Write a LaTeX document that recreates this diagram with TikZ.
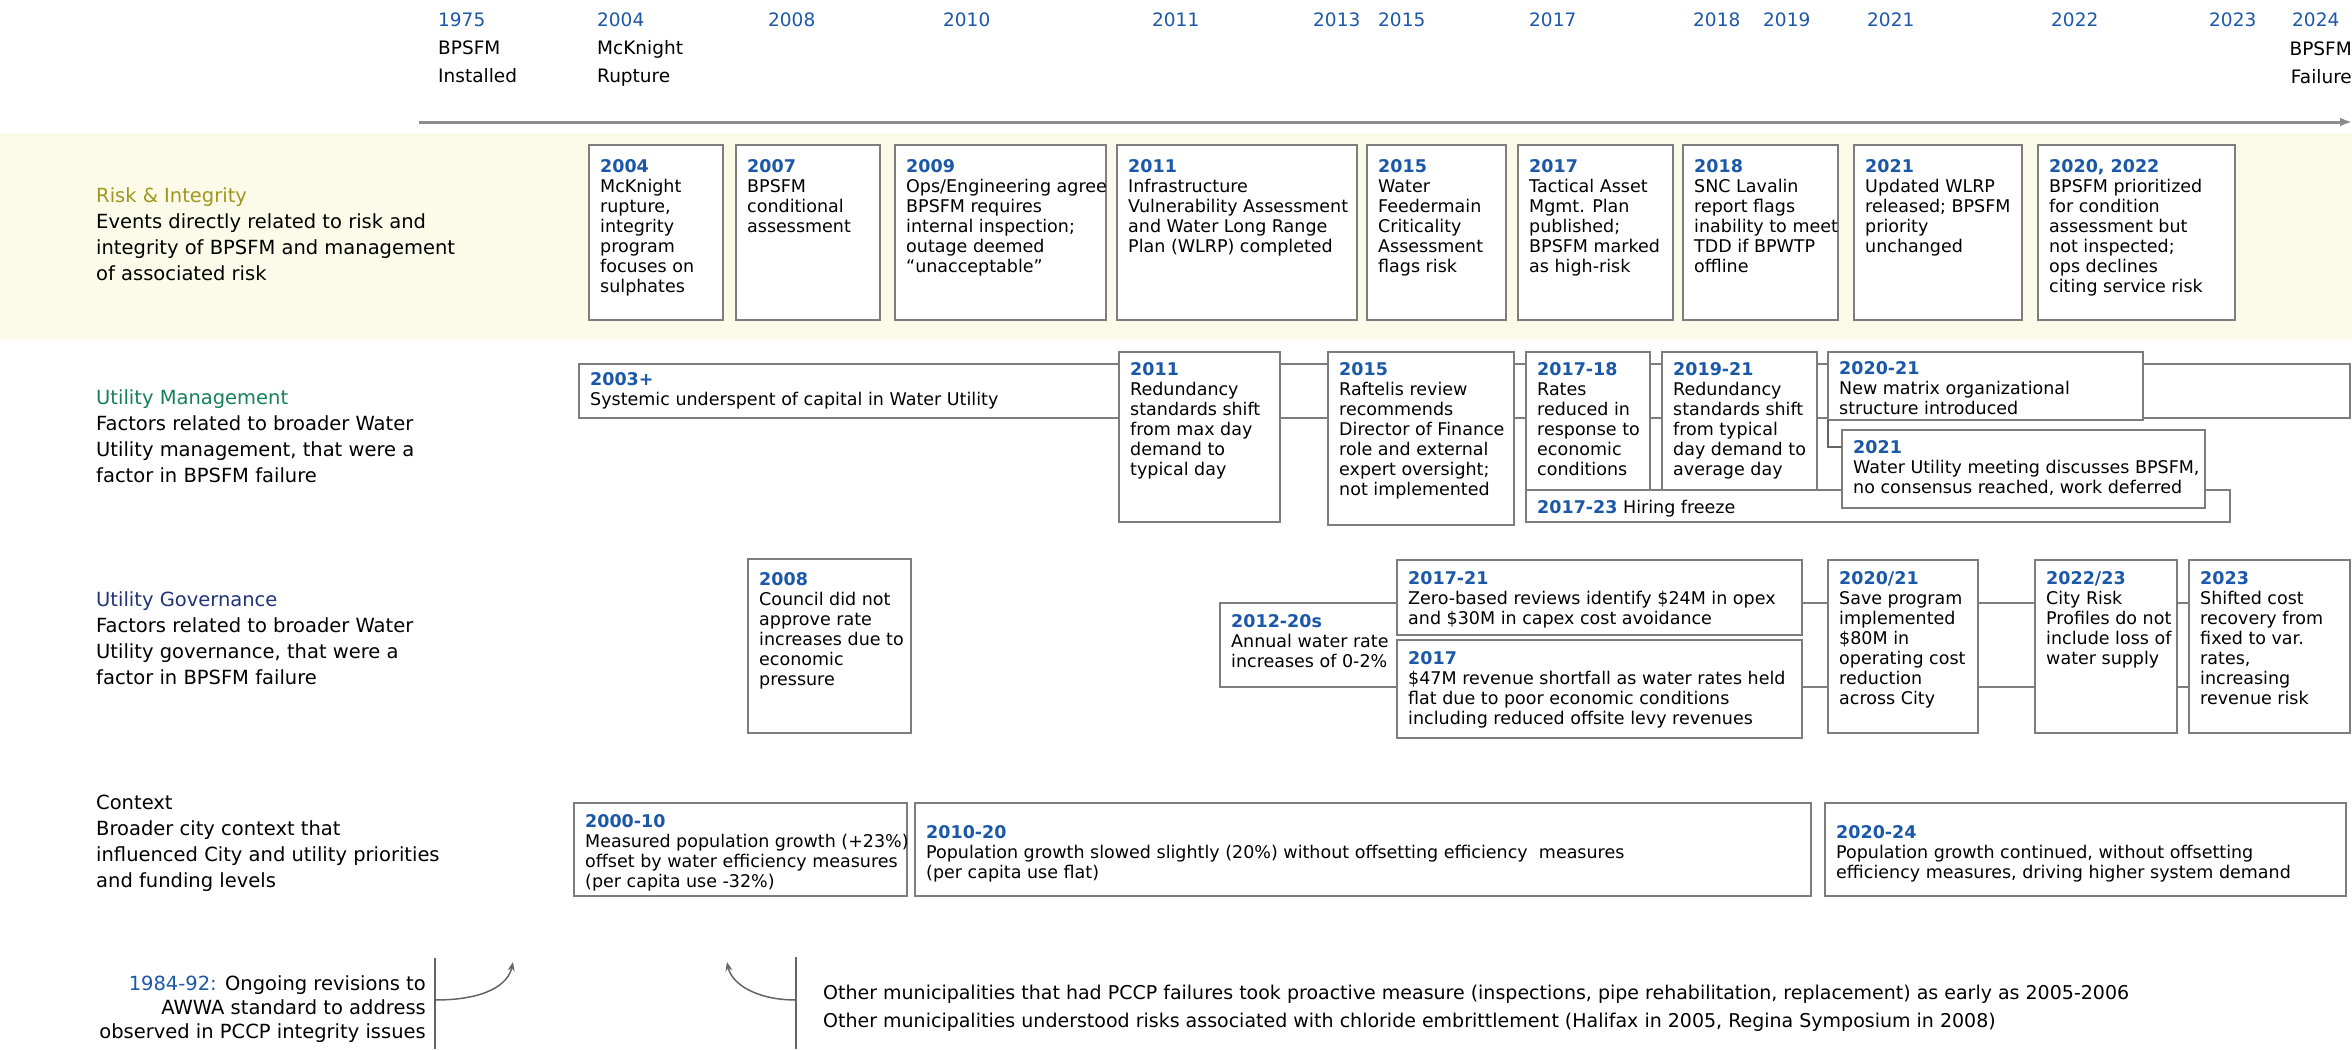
\documentclass[tikz,border=0pt]{standalone}
\usepackage{fontspec}
\setmainfont{DejaVu Sans}
\usetikzlibrary{calc,arrows.meta}
\definecolor{yrblue}{RGB}{28,88,168}
\definecolor{riskcol}{RGB}{160,152,30}
\definecolor{mgmtcol}{RGB}{22,128,88}
\definecolor{govcol}{RGB}{32,52,120}
\definecolor{boxline}{RGB}{125,125,125}
\definecolor{riskbg}{RGB}{252,250,232}
\definecolor{tlgray}{RGB}{140,140,140}
\newcommand{\yr}[1]{{\color{yrblue}\bfseries #1}}
\newcommand{\bxfont}{\fontsize{17.5}{20}\selectfont}
\newcommand{\hdrfont}{\fontsize{18.5}{28}\selectfont}
\newcommand{\dscfont}{\fontsize{19.5}{26}\selectfont}
\newcommand{\ntfont}{\fontsize{19.5}{24}\selectfont}
\newcommand{\evbx}[7][11]{%
  \node[evbox, minimum width={#5-#3}, minimum height={#6-#4}] (#2) at (#3,#4) {};
  \node[evtext] (#2t) at ($(#2.north west)+(11,#1)$) {#7};
}
\begin{document}
\begin{tikzpicture}[x=1pt,y=-1pt,
  evbox/.style={draw=boxline, line width=1.5pt, fill=white, anchor=north west, inner sep=0pt, outer sep=0pt},
  evtext/.style={anchor=north west, inner sep=0pt, align=left, font=\bxfont, text=black},
  hdr/.style={anchor=north west, inner sep=0pt, align=left, font=\hdrfont},
  desc/.style={anchor=north west, inner sep=0pt, align=left, font=\dscfont},
  note/.style={inner sep=0pt, font=\ntfont},
  conn/.style={draw=boxline!80!black, line width=1.5pt},
  tline/.style={draw=tlgray, line width=3pt, -{Latex[length=12pt,width=9pt]}},
  curvearrow/.style={draw=boxline!80!black, line width=1.5pt, -{Stealth[length=9pt,width=7pt]}}
]
\useasboundingbox (0,0) rectangle (2352,1049);
\fill[white] (0,0) rectangle (2352,1049);
% risk band
\fill[riskbg] (0,133) rectangle (2352,340);

% ---------- header timeline ----------
\node[hdr] (h1975) at (438,13) {\textcolor{yrblue}{1975}\\BPSFM\\Installed};
\node[hdr] (h2004) at (597,13) {\textcolor{yrblue}{2004}\\McKnight\\Rupture};
\node[hdr] (h2008) at (768,13) {\textcolor{yrblue}{2008}};
\node[hdr] (h2010) at (943,13) {\textcolor{yrblue}{2010}};
\node[hdr] (h2011) at (1152,13) {\textcolor{yrblue}{2011}};
\node[hdr] (h2013) at (1313,13) {\textcolor{yrblue}{2013}};
\node[hdr] (h2015) at (1378,13) {\textcolor{yrblue}{2015}};
\node[hdr] (h2017) at (1529,13) {\textcolor{yrblue}{2017}};
\node[hdr] (h2018) at (1693,13) {\textcolor{yrblue}{2018}};
\node[hdr] (h2019) at (1763,13) {\textcolor{yrblue}{2019}};
\node[hdr] (h2021) at (1867,13) {\textcolor{yrblue}{2021}};
\node[hdr] (h2022) at (2051,13) {\textcolor{yrblue}{2022}};
\node[hdr] (h2023) at (2209,13) {\textcolor{yrblue}{2023}};
\node[hdr] (h2024) at (2292,13) {\textcolor{yrblue}{2024}};
\node[hdr, anchor=north east, align=right] (hfail) at (2352,42) {BPSFM\\Failure};
\coordinate (tls) at (419,122);
\coordinate (tle) at (2352,122);
\draw[tline] (tls) -- (tle);

% ---------- left descriptions ----------
\node[desc] (dRisk) at (96,187) {\textcolor{riskcol}{Risk \& Integrity}\\Events directly related to risk and\\integrity of BPSFM and management\\of associated risk};
\node[desc] (dMgmt) at (96,389) {\textcolor{mgmtcol}{Utility Management}\\Factors related to broader Water\\Utility management, that were a\\factor in BPSFM failure};
\node[desc] (dGov) at (96,591) {\textcolor{govcol}{Utility Governance}\\Factors related to broader Water\\Utility governance, that were a\\factor in BPSFM failure};
\node[desc] (dCtx) at (96,795) {Context\\Broader city context that\\influenced City and utility priorities\\and funding levels};

% ---------- risk & integrity ----------
\evbx[14]{r04}{589}{145}{723}{320}{\yr{2004}\\McKnight\\rupture,\\integrity\\program\\focuses on\\sulphates}
\evbx[14]{r07}{736}{145}{880}{320}{\yr{2007}\\BPSFM\\conditional\\assessment}
\evbx[14]{r09}{895}{145}{1106}{320}{\yr{2009}\\Ops/Engineering agree\\BPSFM requires\\internal inspection;\\outage deemed\\“unacceptable”}
\evbx[14]{r11}{1117}{145}{1357}{320}{\yr{2011}\\Infrastructure\\Vulnerability Assessment\\and Water Long Range\\Plan (WLRP) completed}
\evbx[14]{r15}{1367}{145}{1506}{320}{\yr{2015}\\Water\\Feedermain\\Criticality\\Assessment\\flags risk}
\evbx[14]{r17}{1518}{145}{1673}{320}{\yr{2017}\\Tactical Asset\\Mgmt. Plan\\published;\\BPSFM marked\\as high-risk}
\evbx[14]{r18}{1683}{145}{1838}{320}{\yr{2018}\\SNC Lavalin\\report flags\\inability to meet\\TDD if BPWTP\\offline}
\evbx[14]{r21}{1854}{145}{2022}{320}{\yr{2021}\\Updated WLRP\\released; BPSFM\\priority\\unchanged}
\evbx[14]{r22}{2038}{145}{2235}{320}{\yr{2020, 2022}\\BPSFM prioritized\\for condition\\assessment but\\not inspected;\\ops declines\\citing service risk}

% ---------- utility management ----------
\evbx[8]{m03}{579}{364}{2350}{418}{\yr{2003+}\\Systemic underspent of capital in Water Utility}
\evbx[10]{m11}{1119}{352}{1280}{522}{\yr{2011}\\Redundancy\\standards shift\\from max day\\demand to\\typical day}
\evbx[10]{m15}{1328}{352}{1514}{525}{\yr{2015}\\Raftelis review\\recommends\\Director of Finance\\role and external\\expert oversight;\\not implemented}
\evbx[10]{m1718}{1526}{352}{1650}{490}{\yr{2017-18}\\Rates\\reduced in\\response to\\economic\\conditions}
\evbx[10]{m1921}{1662}{352}{1817}{490}{\yr{2019-21}\\Redundancy\\standards shift\\from typical\\day demand to\\average day}
\evbx[9]{m2021}{1828}{352}{2143}{420}{\yr{2020-21}\\New matrix organizational\\structure introduced}
\evbx[10]{mhf}{1526}{490}{2230}{522}{\yr{2017-23} Hiring freeze}
\evbx[10]{m21}{1842}{430}{2205}{508}{\yr{2021}\\Water Utility meeting discusses BPSFM,\\no consensus reached, work deferred}
\draw[conn] (m2021.south west) |- ($(m21.north west)+(0,17)$);

% ---------- utility governance ----------
\evbx[13]{g08}{748}{559}{911}{733}{\yr{2008}\\Council did not\\approve rate\\increases due to\\economic\\pressure}
\evbx[11]{gbar}{1220}{603}{2350}{687}{\yr{2012-20s}\\Annual water rate\\increases of 0-2\%}
\evbx[11]{g1721}{1397}{560}{1802}{635}{\yr{2017-21}\\Zero-based reviews identify \$24M in opex\\and \$30M in capex cost avoidance}
\evbx[11]{g17}{1397}{640}{1802}{738}{\yr{2017}\\\$47M revenue shortfall as water rates held\\flat due to poor economic conditions\\including reduced offsite levy revenues}
\evbx[11]{g2021}{1828}{560}{1978}{733}{\yr{2020/21}\\Save program\\implemented\\\$80M in\\operating cost\\reduction\\across City}
\evbx[11]{g2223}{2035}{560}{2177}{733}{\yr{2022/23}\\City Risk\\Profiles do not\\include loss of\\water supply}
\evbx[11]{g23}{2189}{560}{2350}{733}{\yr{2023}\\Shifted cost\\recovery from\\fixed to var.\\rates,\\increasing\\revenue risk}

% ---------- context ----------
\evbx[11]{c0010}{574}{803}{907}{896}{\yr{2000-10}\\Measured population growth (+23\%)\\offset by water efficiency measures\\(per capita use -32\%)}
\evbx[22]{c1020}{915}{803}{1811}{896}{\yr{2010-20}\\Population growth slowed slightly (20\%) without offsetting efficiency\ \ measures\\(per capita use flat)}
\evbx[22]{c2024}{1825}{803}{2346}{896}{\yr{2020-24}\\Population growth continued, without offsetting\\efficiency measures, driving higher system demand}

% ---------- bottom notes ----------
\node[note, anchor=north east, align=right] (n1) at (426,975) {\textcolor{yrblue}{1984-92:} Ongoing revisions to\\AWWA standard to address\\observed in PCCP integrity issues};
\node[note, anchor=north west, align=left, font=\fontsize{19}{28}\selectfont] (n2) at (823,985) {Other municipalities that had PCCP failures took proactive measure (inspections, pipe rehabilitation, replacement) as early as 2005-2006\\Other municipalities understood risks associated with chloride embrittlement (Halifax in 2005, Regina Symposium in 2008)};
\coordinate (la0) at (435,958);
\coordinate (la1) at (435,1049);
\coordinate (lc0) at (435,1000);
\coordinate (lc1) at (513,962);
\draw[conn] (la0) -- (la1);
\draw[curvearrow] (lc0) .. controls (485,1000) and (508,985) .. (lc1);
\coordinate (ra0) at (796,957);
\coordinate (ra1) at (796,1049);
\coordinate (rc0) at (796,1000);
\coordinate (rc1) at (727,962);
\draw[conn] (ra0) -- (ra1);
\draw[curvearrow] (rc0) .. controls (758,1000) and (732,985) .. (rc1);
\end{tikzpicture}
\end{document}
